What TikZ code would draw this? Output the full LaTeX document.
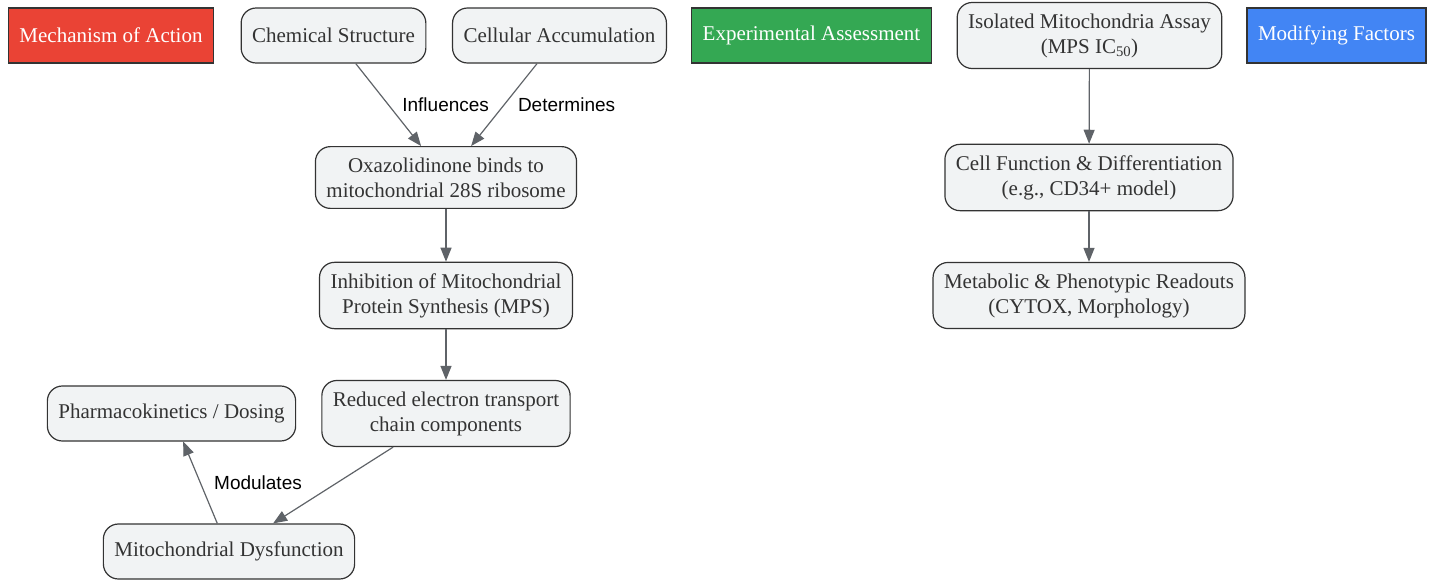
\documentclass[tikz,border=0pt]{standalone}
\usepackage{fontspec}
\setmainfont{Liberation Serif}
\newfontfamily\labelfont{Liberation Sans}
\usetikzlibrary{arrows.meta,shapes}
\definecolor{boxfill}{HTML}{F1F3F4}
\definecolor{boxline}{HTML}{333333}
\definecolor{edgegray}{HTML}{5F6368}
\definecolor{moared}{HTML}{EA4335}
\definecolor{expgreen}{HTML}{34A853}
\definecolor{modblue}{HTML}{4285F4}
\tikzstyle{stepnode}=[rectangle,rounded corners=15pt,draw=boxline,fill=boxfill,line width=1.2pt,text=boxline,font=\fontsize{21}{25}\selectfont,align=center,inner xsep=11pt,inner ysep=11pt,minimum height=55pt]
\tikzstyle{header}=[rectangle,draw=boxline,line width=1.2pt,text=white,font=\fontsize{21}{25}\selectfont,inner xsep=11pt,minimum height=55pt]
\tikzstyle{edge} = [draw,line width=1.2pt,edgegray,-{Triangle[length=14pt,width=11pt]}]
\tikzstyle{weight} = [font=\labelfont\fontsize{19}{22}\selectfont,text=black,right=10pt]

\begin{document}
\begin{tikzpicture}[x=1pt,y=-1pt]
    \useasboundingbox (0,0) rectangle (1436,579);
    % Coloured headers of the three groups
    \foreach \pos/\name/\col/\txt in {{(111,35.5)/moa/moared/Mechanism of Action},
                            {(811.5,35.5)/exp/expgreen/Experimental Assessment},
                            {(1336.5,35.5)/mod/modblue/Modifying Factors}}
        \node[header, fill=\col] (\name) at \pos {\txt};
    % Then the steps
    \foreach \pos/\name/\txt in {{(333.5,35.5)/chem/Chemical Structure},
                            {(559.5,35.5)/accum/Cellular Accumulation},
                            {(446,177.5)/binds/Oxazolidinone binds to\\mitochondrial 28S ribosome},
                            {(446,295.5)/mps/Inhibition of Mitochondrial\\Protein Synthesis (MPS)},
                            {(446,413.5)/etc/Reduced electron transport\\chain components},
                            {(171.5,413.5)/pk/{Pharmacokinetics / Dosing}},
                            {(229,551.5)/dysf/Mitochondrial Dysfunction},
                            {(1089.5,35.5)/iso/Isolated Mitochondria Assay\\(MPS IC\textsubscript{50})},
                            {(1089,177.5)/cell/Cell Function \& Differentiation\\(e.g., CD34+ model)},
                            {(1089,295.5)/readout/Metabolic \& Phenotypic Readouts\\(CYTOX, Morphology)}}
        \node[stepnode] (\name) at \pos {\txt};
    % Connect steps, some with labels
    \foreach \source/ \dest in {binds/mps, mps/etc, etc/dysf, iso/cell, cell/readout}
        \path[edge] (\source) -- (\dest);
    \foreach \source/ \dest /\weight in {chem/binds/Influences, accum/binds/Determines, dysf/pk/Modulates}
        \path[edge] (\source) -- node[weight] {\weight} (\dest);
\end{tikzpicture}
\end{document}
